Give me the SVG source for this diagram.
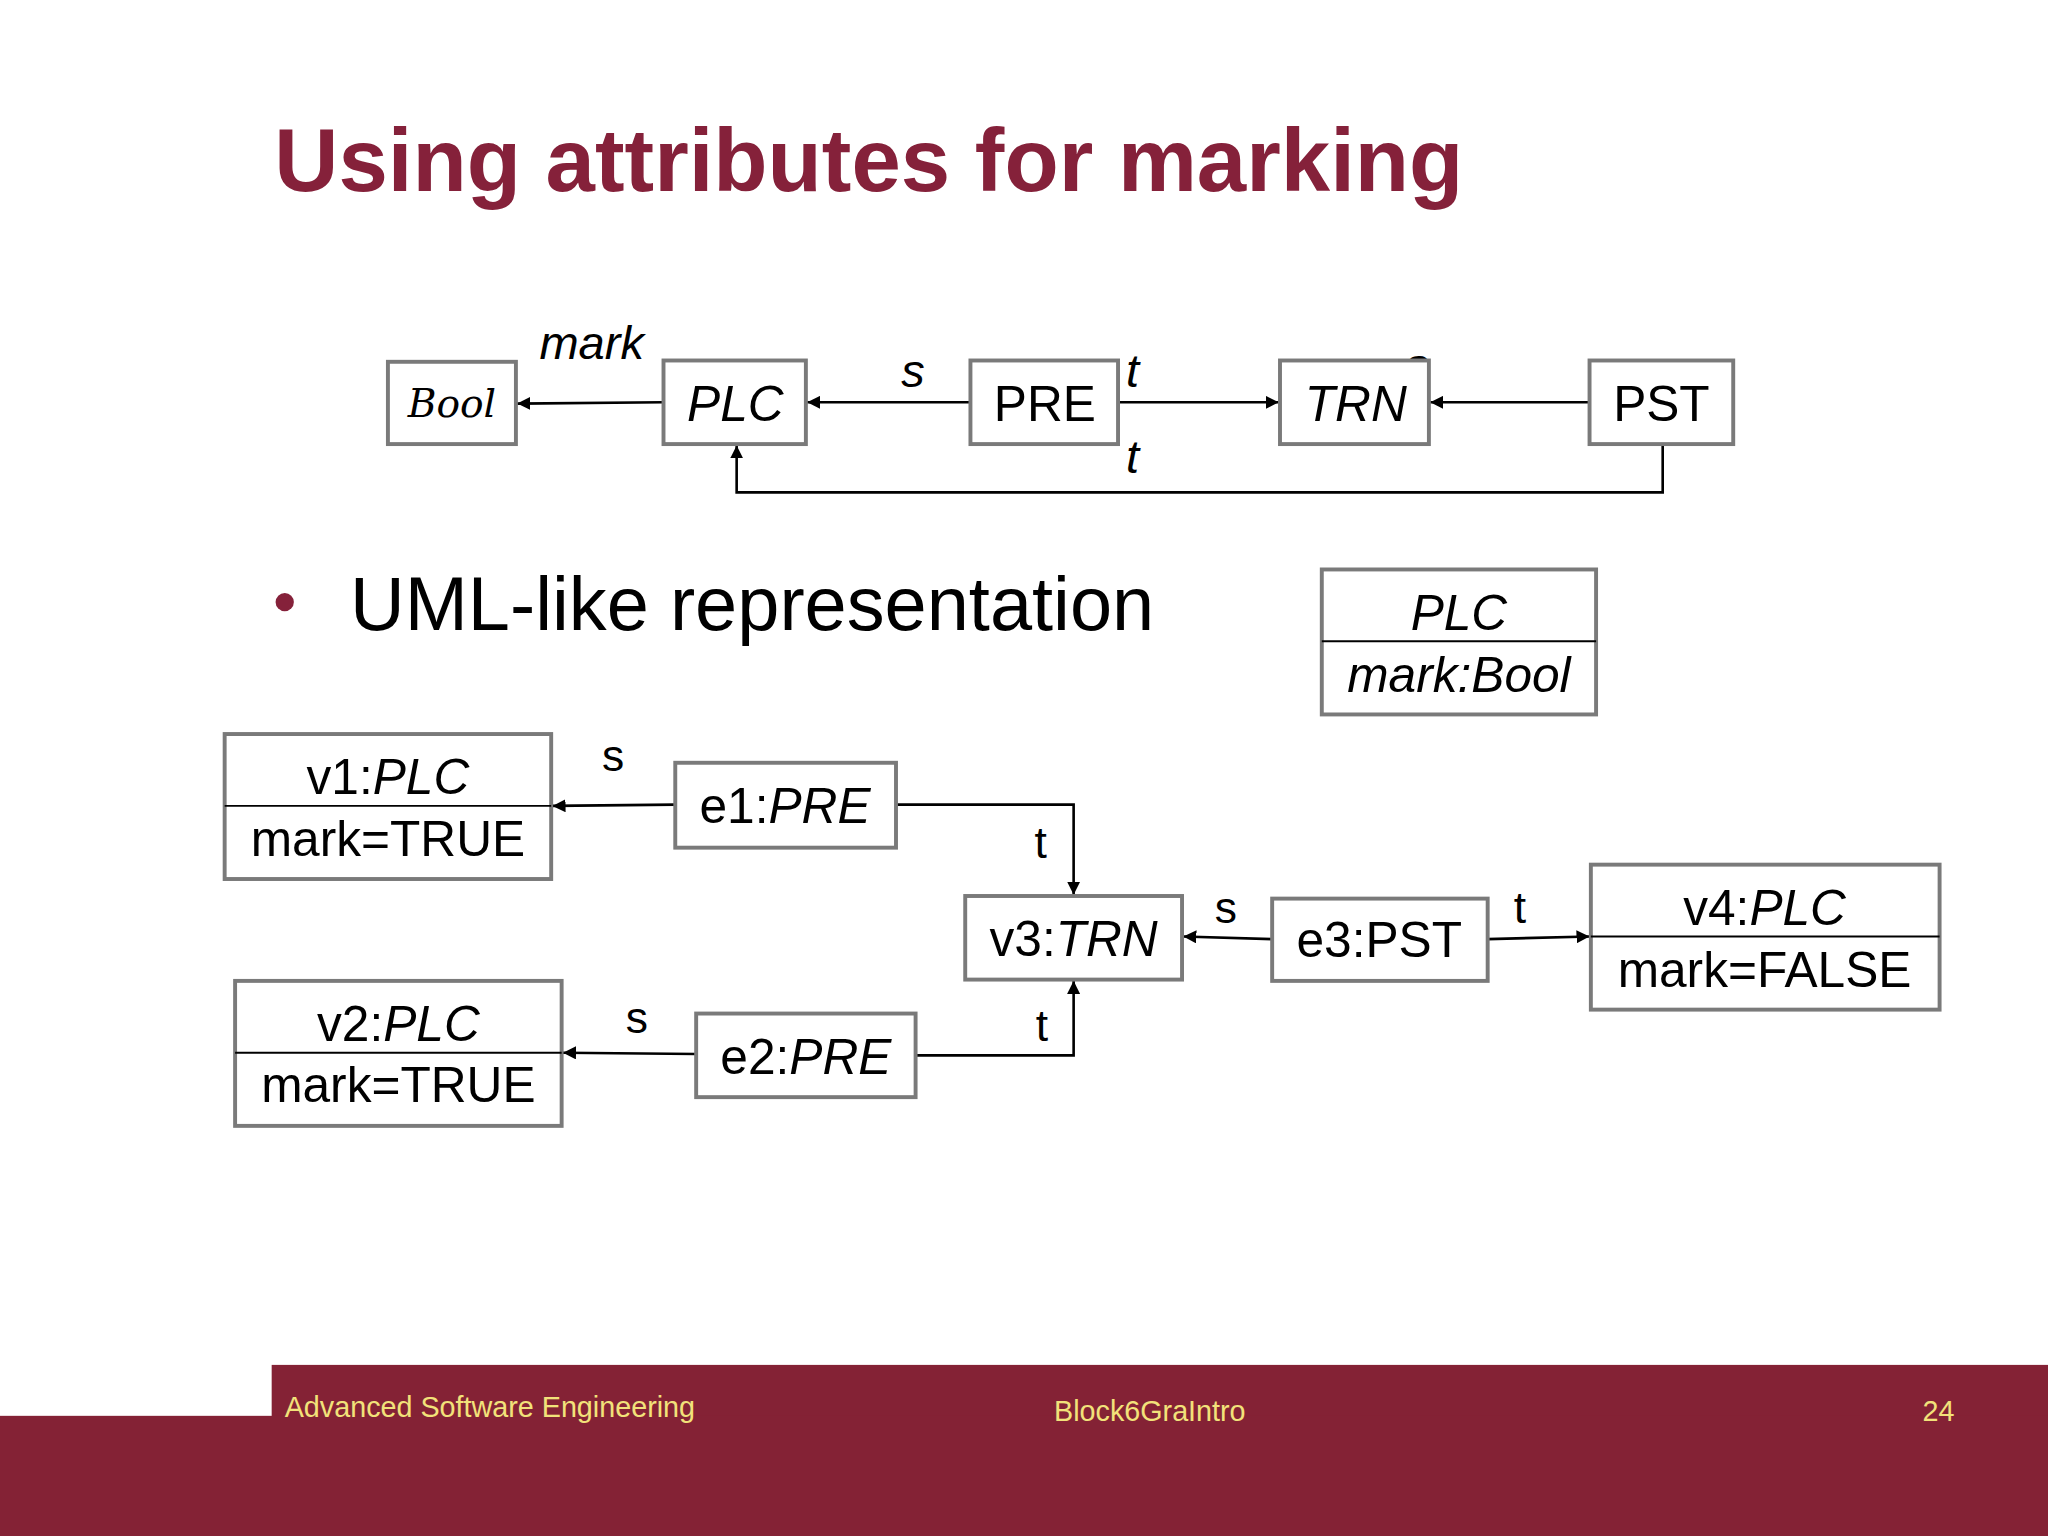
<svg xmlns="http://www.w3.org/2000/svg" width="2048" height="1536" viewBox="0 0 2048 1536">
<defs>
<marker id="ah" viewBox="0 0 10 10" refX="10" refY="5" markerWidth="10" markerHeight="10" markerUnits="userSpaceOnUse" orient="auto"><path d="M0,0L10,5L0,10z" fill="#000"/></marker>
<style>
.b{fill:#fff;stroke:#7a7a7a;stroke-width:3}
.t{font-family:"Liberation Sans",Arial,sans-serif;fill:#000}
.i{font-style:italic}
.c{stroke:#000;stroke-width:2;fill:none;marker-end:url(#ah)}
.d{stroke:#000;stroke-width:1.5}
.f{font-family:"Liberation Sans",Arial,sans-serif;fill:#f2e27a;font-size:22px}
</style>
</defs>
<rect width="2048" height="1536" fill="#fff"/>
<g transform="scale(1.30612)">
<text x="210" y="146" font-family="Liberation Sans,Arial,sans-serif" font-weight="bold" font-size="68" fill="#85213a">Using attributes for marking</text>
<g id="connectors">
<path class="c" d="M508,308L396,309"/>
<path class="c" d="M743,308L618,308"/>
<path class="c" d="M856,308L979,308"/>
<path class="c" d="M1217,308L1095,308"/>
<path class="c" d="M1273,340L1273,377L564,377L564,341"/>
<path class="c" d="M517,616L423,617"/>
<path class="c" d="M686,616L822,616L822,685"/>
<path class="c" d="M974,719L906,717"/>
<path class="c" d="M1139,719L1217,717"/>
<path class="c" d="M533,807L431,806"/>
<path class="c" d="M701,808L822,808L822,751"/>
<g class="t i" font-size="36">
<text x="413" y="275">mark</text><text x="690" y="296">s</text><text x="862" y="296">t</text><text x="1076" y="292">s</text><text x="862" y="362">t</text>
</g>
<g class="t" font-size="34">
<text x="461" y="590">s</text><text x="792" y="657">t</text><text x="930" y="707">s</text><text x="1159" y="707">t</text><text x="479" y="791">s</text><text x="793" y="797">t</text>
</g>
</g>
<g id="Bool"><rect class="b" x="297" y="277" width="98" height="63"/><text x="346" y="319" text-anchor="middle" font-family="DejaVu Serif,serif" font-style="italic" font-size="30">Bool</text></g>
<g id="PLC"><rect class="b" x="508" y="276" width="109" height="64"/><text class="t i" x="563" y="322" text-anchor="middle" font-size="38">PLC</text></g>
<g id="PRE"><rect class="b" x="743" y="276" width="113" height="64"/><text class="t" x="800" y="322" text-anchor="middle" font-size="38">PRE</text></g>
<g id="TRN"><rect class="b" x="980" y="276" width="114" height="64"/><text class="t i" x="1038" y="322" text-anchor="middle" font-size="38">TRN</text></g>
<g id="PST"><rect class="b" x="1217" y="276" width="110" height="64"/><text class="t" x="1272" y="322" text-anchor="middle" font-size="38">PST</text></g>
<circle cx="218" cy="461" r="7" fill="#85213a"/>
<text class="t" x="268" y="482" font-size="58">UML-like representation</text>
<g id="PLCclass"><rect class="b" x="1012" y="436" width="210" height="111"/><line class="d" x1="1012" y1="491" x2="1222" y2="491"/><text class="t i" x="1117" y="482" text-anchor="middle" font-size="38">PLC</text><text class="t i" x="1117" y="530" text-anchor="middle" font-size="38">mark:Bool</text></g>
<g id="v1"><rect class="b" x="172" y="562" width="250" height="111"/><line class="d" x1="172" y1="617" x2="422" y2="617"/><text class="t" x="297" y="608" text-anchor="middle" font-size="38">v1:<tspan font-style="italic">PLC</tspan></text><text class="t" x="297" y="655" text-anchor="middle" font-size="38">mark=TRUE</text></g>
<g id="e1"><rect class="b" x="517" y="584" width="169" height="65"/><text class="t" x="601" y="630" text-anchor="middle" font-size="38">e1:<tspan font-style="italic">PRE</tspan></text></g>
<g id="v3"><rect class="b" x="739" y="686" width="166" height="64"/><text class="t" x="822" y="732" text-anchor="middle" font-size="38">v3:<tspan font-style="italic">TRN</tspan></text></g>
<g id="e3"><rect class="b" x="974" y="688" width="165" height="63"/><text class="t" x="1056" y="733" text-anchor="middle" font-size="38">e3:PST</text></g>
<g id="v4"><rect class="b" x="1218" y="662" width="267" height="111"/><line class="d" x1="1218" y1="717" x2="1485" y2="717"/><text class="t" x="1351" y="708" text-anchor="middle" font-size="38">v4:<tspan font-style="italic">PLC</tspan></text><text class="t" x="1351" y="756" text-anchor="middle" font-size="38">mark=FALSE</text></g>
<g id="v2"><rect class="b" x="180" y="751" width="250" height="111"/><line class="d" x1="180" y1="806" x2="430" y2="806"/><text class="t" x="305" y="797" text-anchor="middle" font-size="38">v2:<tspan font-style="italic">PLC</tspan></text><text class="t" x="305" y="844" text-anchor="middle" font-size="38">mark=TRUE</text></g>
<g id="e2"><rect class="b" x="533" y="776" width="168" height="64"/><text class="t" x="617" y="822" text-anchor="middle" font-size="38">e2:<tspan font-style="italic">PRE</tspan></text></g>
<g id="footer">
<rect x="208" y="1045" width="1360" height="131" fill="#842235"/>
<rect x="0" y="1084" width="1568" height="92" fill="#842235"/>
<text class="f" x="218" y="1085">Advanced Software Engineering</text>
<text class="f" x="807" y="1088">Block6GraIntro</text>
<text class="f" x="1472" y="1088">24</text>
</g>
</g>
</svg>
